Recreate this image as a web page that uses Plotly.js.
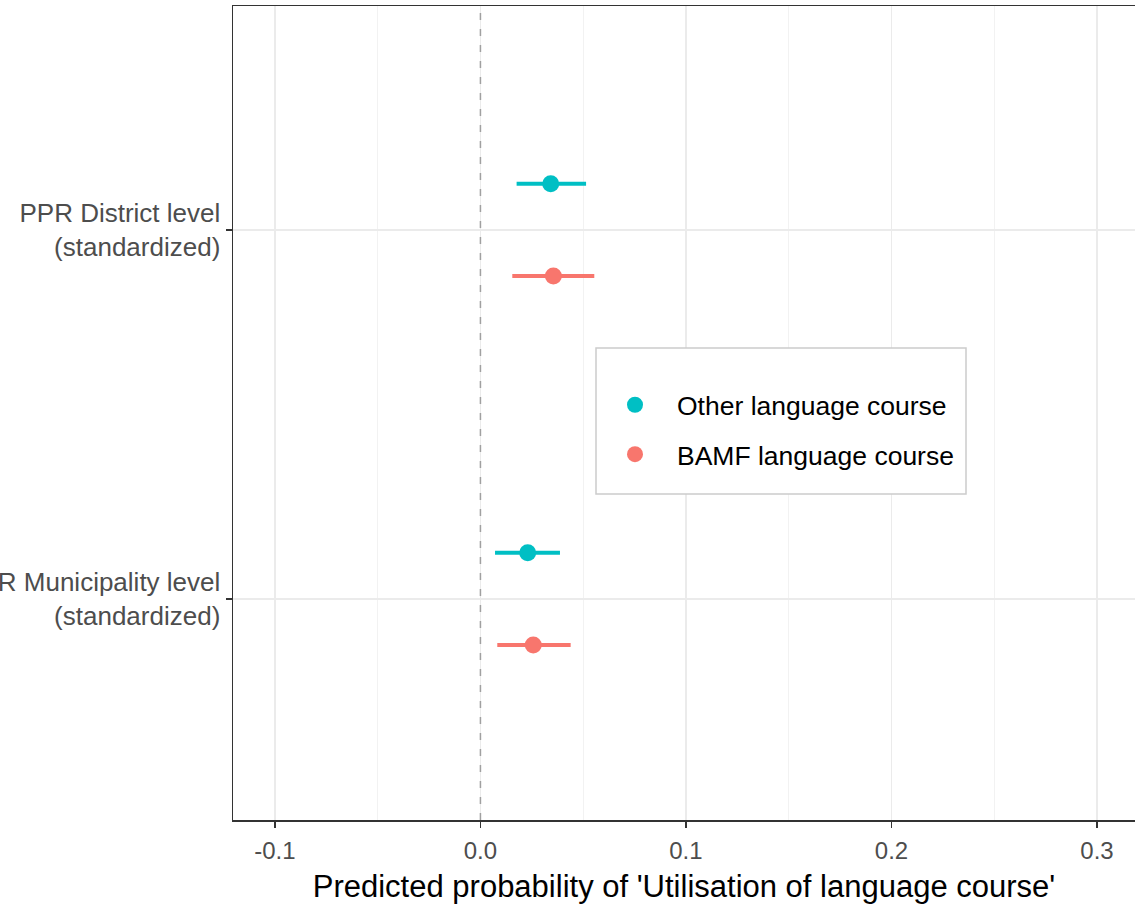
<!DOCTYPE html>
<html>
<head>
<meta charset="utf-8">
<script src="https://cdn.plot.ly/plotly-3.0.1.min.js"></script>
<style>
html,body{margin:0;padding:0;background:#fff;overflow:hidden;}
#chart{width:1135px;height:906px;}
</style>
</head>
<body>
<div id="chart"></div>
<script>
// ---- data ----
var categories = ["PPR Municipality level<br>(standardized)", "PPR District level<br>(standardized)"];
var seriesNames = ["Other language course", "BAMF language course"];
var otherEst  = [0.0230, 0.0342];
var otherLow  = [0.0071, 0.0176];
var otherHigh = [0.0387, 0.0514];
var bamfEst   = [0.0257, 0.0355];
var bamfLow   = [0.0082, 0.0155];
var bamfHigh  = [0.0439, 0.0554];
var xTickVals = [-0.1, 0.0, 0.1, 0.2, 0.3];
var xTickText = ["-0.1", "0.0", "0.1", "0.2", "0.3"];

// ---- styling ----
var colors = ["#00BFC4", "#F8766D"];
var dodge = [0.125, -0.125];
var catPos = categories.map(function(c, i){ return i; });

function makeTrace(k, est, lo, hi){
  return {
    type: "scatter",
    mode: "markers",
    name: seriesNames[k],
    legendgroup: "g" + k,
    x: est,
    y: catPos.map(function(p){ return p + dodge[k]; }),
    error_x: {
      type: "data", symmetric: false,
      array: est.map(function(v, i){ return hi[i] - v; }),
      arrayminus: est.map(function(v, i){ return v - lo[i]; }),
      color: colors[k], thickness: 4, width: 0
    },
    marker: {color: colors[k], size: 17, symbol: "circle"},
    hoverinfo: "x+y"
  };
}

var traces = [
  makeTrace(0, otherEst, otherLow, otherHigh),
  makeTrace(1, bamfEst, bamfLow, bamfHigh)
];

var L = 233, T = 6, W = 1135, H = 906, B = 86;
var pw = W - L, ph = H - T - B;
function px2paperX(p){ return (p - L) / pw; }
function px2paperY(p){ return (H - B - p) / ph; }

var layout = {
  width: W, height: H,
  margin: {l: L, r: 0, t: T, b: B, pad: 0},
  paper_bgcolor: "#ffffff",
  plot_bgcolor: "#ffffff",
  font: {family: "Liberation Sans, Arial, sans-serif", color: "#000"},
  showlegend: true,
  legend: {
    x: px2paperX(593), y: px2paperY(381),
    xanchor: "left", yanchor: "top",
    bgcolor: "rgba(0,0,0,0)", borderwidth: 0,
    font: {size: 26.5, color: "#000"},
    traceorder: "grouped", tracegroupgap: 12,
    itemwidth: 74
  },
  xaxis: {
    range: [-0.1204, 0.3185],
    tickvals: xTickVals, ticktext: xTickText,
    ticks: "outside", ticklen: 6, tickwidth: 1.5, tickcolor: "#333333",
    tickfont: {size: 24, color: "#4D4D4D"},
    ticklabelstandoff: 3,
    showline: true, linecolor: "#333333", linewidth: 1.5, mirror: true,
    showgrid: true, gridcolor: "#EBEBEB", gridwidth: 1.5,
    minor: {dtick: 0.05, tick0: 0.05, showgrid: true, gridcolor: "#F2F2F2", gridwidth: 1, ticks: ""},
    zeroline: false,
    title: {text: "Predicted probability of 'Utilisation of language course'", font: {size: 31, color: "#000"}, standoff: 12},
    automargin: false
  },
  yaxis: {
    range: [-0.599, 1.607],
    tickvals: catPos, ticktext: categories,
    ticks: "outside", ticklen: 6, tickwidth: 1.5, tickcolor: "#333333",
    tickfont: {size: 26, color: "#4D4D4D"},
    showline: true, linecolor: "#333333", linewidth: 1.5, mirror: false,
    showgrid: true, gridcolor: "#EBEBEB", gridwidth: 1.5,
    zeroline: false,
    automargin: false
  },
  shapes: [
    {type: "line", xref: "x", yref: "paper", x0: 0, x1: 0, y0: 0, y1: 1,
     line: {color: "#A0A0A0", width: 1.5, dash: "7px,9px"}, layer: "above"},
    {type: "rect", xref: "paper", yref: "paper",
     x0: px2paperX(596), x1: px2paperX(966), y0: px2paperY(494), y1: px2paperY(348),
     line: {color: "#CCCCCC", width: 1.5}, fillcolor: "#ffffff", layer: "above"}
  ]
};

Plotly.newPlot("chart", traces, layout, {displayModeBar: false, staticPlot: true});
</script>
</body>
</html>
